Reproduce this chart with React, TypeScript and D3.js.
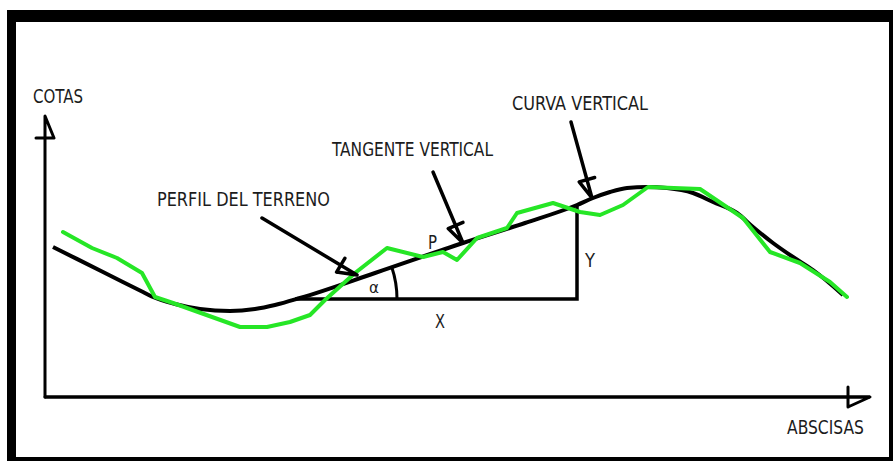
import React from 'react';
import * as d3 from 'd3';

// abscissa / elevation readings (drawing units)
const profileX = [8, 58, 98, 108, 130, 155, 185, 210, 230, 255, 330, 418, 480, 532, 548, 565, 582, 602, 622, 648, 668, 692, 708, 728, 748, 768, 798];
const profileY = [150, 125, 105, 100, 93, 88, 86, 88, 92, 99, 124, 154, 174, 192, 199, 205, 209, 210, 209, 204, 195, 184, 170, 154, 140, 127, 102];

const terrainX = [18, 47, 72, 97, 110, 128, 195, 222, 245, 265, 280, 310, 342, 378, 398, 412, 432, 462, 472, 508, 535, 555, 578, 603, 655, 698, 725, 755, 785, 802];
const terrainY = [165, 149, 139, 124, 100, 94, 70, 70, 75, 82, 97, 124, 149, 140, 145, 137, 159, 169, 184, 194, 185, 182, 192, 210, 208, 179, 145, 134, 115, 100];

const axisLabels = ['COTAS', 'ABSCISAS'];
const calloutLabels = ['PERFIL DEL TERRENO', 'TANGENTE VERTICAL', 'CURVA VERTICAL'];
const triangleLabels = ['P', 'Y', 'X', 'α'];

const W = 893;
const H = 461;
const FONT = "'Liberation Sans Narrow', 'DejaVu Sans Condensed', 'Roboto', sans-serif";

const x = d3.scaleLinear().domain([0, 825]).range([45, 870]);
const y = d3.scaleLinear().domain([0, 280]).range([397, 117]);

function arrow(sx: number, sy: number, tx: number, ty: number, L = 19, w = 8, sw = 3.5) {
  const x1 = x(sx), y1 = y(sy), x2 = x(tx), y2 = y(ty);
  const len = Math.hypot(x2 - x1, y2 - y1);
  const dx = (x2 - x1) / len, dy = (y2 - y1) / len;
  const nx = -dy, ny = dx;
  const bx = x2 - L * dx, by = y2 - L * dy;
  const path = d3.path();
  path.moveTo(x1, y1);
  path.lineTo(x2, y2);
  path.lineTo(bx + w * nx, by + w * ny);
  path.lineTo(bx, by);
  path.moveTo(bx - w * nx, by - w * ny);
  path.lineTo(bx + w * nx, by + w * ny);
  return <path d={path.toString()} fill="none" stroke="#000" strokeWidth={sw} strokeLinejoin="round" strokeLinecap="round" />;
}

function label(text: string, x0: number, x1: number, base: number, size = 19.5) {
  return (
    <text x={x(x0)} y={y(base)} fontSize={size} fontFamily={FONT} fill="#1c1c1c"
      textLength={x(x1) - x(x0)} lengthAdjust="spacingAndGlyphs">{text}</text>
  );
}

export default function App() {
  const profile = profileX.map((v, i) => [v, profileY[i]] as [number, number]);
  const terrain = terrainX.map((v, i) => [v, terrainY[i]] as [number, number]);

  const smooth = d3.line<[number, number]>().x(d => x(d[0])).y(d => y(d[1])).curve(d3.curveMonotoneX);
  const poly = d3.line<[number, number]>().x(d => x(d[0])).y(d => y(d[1]));

  // angle arc at the vertex of the slope triangle
  const vx = x(252), vy = y(98);
  const ang = Math.atan2(y(98) - y(192), x(532) - x(252));
  const arc = d3.arc()({ innerRadius: 100, outerRadius: 100, startAngle: Math.PI / 2 - ang, endAngle: Math.PI / 2 }) as string;

  return (
    <svg width={W} height={H} style={{ position: 'absolute', left: 0, top: 0, background: '#fff' }}>
      {/* frame */}
      <rect x={7} y={10} width={W - 7} height={12} fill="#000" />
      <rect x={7} y={10} width={9} height={H - 10} fill="#000" />
      <rect x={889} y={10} width={4} height={H - 10} fill="#000" />
      <rect x={7} y={457} width={W - 7} height={4} fill="#000" />

      {/* axes */}
      <line x1={x(0)} y1={y(0)} x2={x(825)} y2={y(0)} stroke="#000" strokeWidth={3} />
      {arrow(0, 0, 0, 281, 22, 9, 3)}
      {arrow(0, 0, 825, 0, 22, 10, 3)}
      {label(axisLabels[0], -12, 38, 294)}
      {label(axisLabels[1], 742, 819, -37)}

      {/* slope triangle */}
      <path d={`M${x(250)},${y(98)}H${x(532)}V${y(192)}`} fill="none" stroke="#000" strokeWidth={3.5} />
      <path d={arc} transform={`translate(${vx},${vy})`} fill="none" stroke="#000" strokeWidth={3} />

      {/* profile & terrain */}
      <path d={smooth(profile) as string} fill="none" stroke="#000" strokeWidth={4} strokeLinejoin="round" />
      <path d={poly(terrain) as string} fill="none" stroke="#26e626" strokeWidth={4} strokeLinejoin="round" strokeLinecap="round" />

      {/* callouts */}
      {arrow(217, 179, 312, 122)}
      {arrow(388, 225, 418, 154)}
      {arrow(526, 275, 547, 199)}
      {label(calloutLabels[0], 112, 285, 191)}
      {label(calloutLabels[1], 287, 448, 241)}
      {label(calloutLabels[2], 467, 603, 287)}

      {label(triangleLabels[0], 383, 392, 148)}
      {label(triangleLabels[1], 540, 550, 130)}
      {label(triangleLabels[2], 390, 400, 69)}
      {label(triangleLabels[3], 324, 334, 104, 15)}
    </svg>
  );
}
